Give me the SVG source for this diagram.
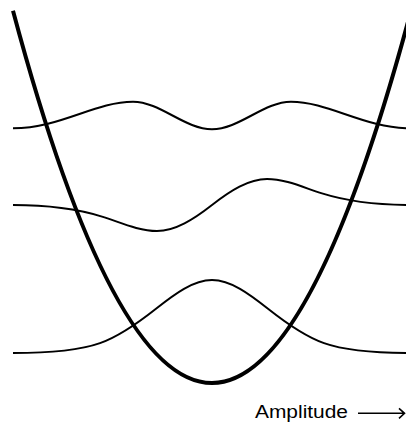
<svg xmlns="http://www.w3.org/2000/svg" width="406" height="425" viewBox="0 0 406 425">
  <style>
    .well { fill: none; stroke: #000; stroke-width: 4; }
    .psi { fill: none; stroke: #000; stroke-width: 2; }
    .lbl { font-family: "Liberation Sans", Arial, sans-serif; font-size: 18px; fill: #000; }
    .arr { fill: none; stroke: #000; stroke-width: 1.6; }
  </style>
  <rect width="406" height="425" fill="#fff"/>
  <g id="well">
    <path class="well" d="M 13,10.7 Q 212,755.3 411,10.7"/>
  </g>
  <g id="psi2">
    <path class="psi" d="M 13,128.3 C 60,128.3 95,101.7 133,101.7 C 160,101.7 185,129.3 212,129.3 C 239,129.3 264,101.7 291,101.7 C 329,101.7 364,128.3 411,128.3"/>
  </g>
  <g id="psi1">
    <path class="psi" d="M 13,205 C 50,205 82,210.3 102,216.6 C 120.3,222.4 138.7,231 157,231 C 175.3,231 193.7,219.3 212,205 C 230.3,190.7 248.7,179 267,179 C 285.3,179 303.7,187.6 322,193.4 C 342,199.7 374,205 411,205"/>
  </g>
  <g id="psi0">
    <path class="psi" d="M 13,353 C 53,353 80,350.2 100,343.1 C 118.7,336.5 137.3,323.5 156,308.7 C 174.7,293.9 193.3,280 212,280 C 230.7,280 249.3,293.9 268,308.7 C 286.7,323.5 305.3,336.5 324,343.1 C 344,350.2 371,353 411,353"/>
  </g>
  <g id="label">
    <text class="lbl" x="255" y="418.3" textLength="93" lengthAdjust="spacingAndGlyphs">Amplitude</text>
    <path class="arr" d="M 358,413.3 H 404.5 M 399,408.3 L 404.5,413.3 L 399,418.3"/>
  </g>
</svg>
